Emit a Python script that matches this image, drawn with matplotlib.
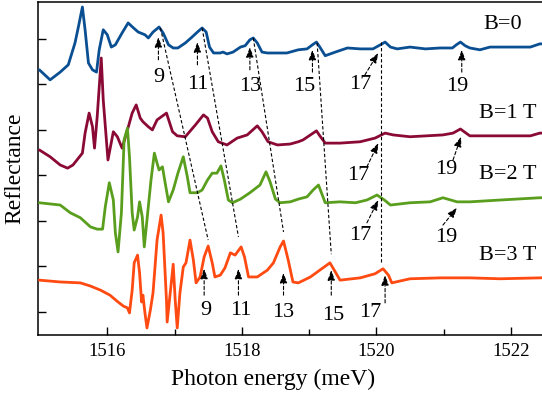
import matplotlib
matplotlib.use("Agg")
import matplotlib.pyplot as plt

plt.rcParams['font.family'] = ['Liberation Serif', 'DejaVu Serif']

# ---- data (photon energy in meV, reflectance in offset units) ----
e_b0 = [1514.99, 1515.15, 1515.30, 1515.42, 1515.52, 1515.57, 1515.63, 1515.67, 1515.72, 1515.78,
        1515.84, 1515.88, 1515.94, 1516.00, 1516.06, 1516.12, 1516.22, 1516.31, 1516.39, 1516.46,
        1516.56, 1516.61, 1516.68, 1516.77, 1516.83, 1516.91, 1516.98, 1517.05, 1517.16, 1517.26,
        1517.34, 1517.41, 1517.47, 1517.52, 1517.58, 1517.68, 1517.72, 1517.78, 1517.87, 1517.98,
        1518.05, 1518.12, 1518.17, 1518.23, 1518.30, 1518.38, 1518.53, 1518.67, 1518.84, 1518.97,
        1519.05, 1519.11, 1519.16, 1519.24, 1519.39, 1519.57, 1519.76, 1519.95, 1520.06, 1520.13,
        1520.21, 1520.31, 1520.50, 1520.73, 1520.95, 1521.13, 1521.19, 1521.25, 1521.32, 1521.39,
        1521.54, 1521.69, 1521.99, 1522.14, 1522.29, 1522.43, 1522.55]
r_b0 = [5.32, 5.10, 5.27, 5.43, 5.91, 6.26, 6.70, 6.20, 5.47, 5.32,
        5.27, 5.76, 6.20, 6.09, 5.82, 5.87, 6.13, 6.35, 6.24, 6.15,
        6.09, 6.02, 6.15, 6.26, 6.13, 5.87, 5.80, 5.80, 5.91, 6.04,
        6.15, 6.24, 6.15, 5.82, 5.69, 5.69, 5.71, 5.67, 5.71, 5.82,
        5.85, 5.98, 6.02, 5.91, 5.71, 5.69, 5.69, 5.69, 5.76, 5.78,
        5.87, 5.93, 5.82, 5.63, 5.71, 5.80, 5.78, 5.78, 5.87, 5.93,
        5.82, 5.78, 5.82, 5.78, 5.80, 5.80, 5.87, 5.93, 5.85, 5.80,
        5.76, 5.82, 5.82, 5.82, 5.82, 5.89, 5.89]

e_b1 = [1514.99, 1515.15, 1515.30, 1515.41, 1515.49, 1515.63, 1515.67, 1515.73, 1515.78, 1515.81,
        1515.85, 1515.91, 1515.94, 1516.01, 1516.09, 1516.15, 1516.22, 1516.30, 1516.37, 1516.43,
        1516.49, 1516.53, 1516.61, 1516.67, 1516.74, 1516.88, 1516.97, 1517.04, 1517.16, 1517.31,
        1517.43, 1517.49, 1517.56, 1517.65, 1517.78, 1517.93, 1518.08, 1518.23, 1518.30, 1518.39,
        1518.53, 1518.72, 1518.84, 1518.91, 1519.02, 1519.11, 1519.16, 1519.24, 1519.46, 1519.76,
        1519.98, 1520.13, 1520.25, 1520.50, 1520.99, 1521.14, 1521.25, 1521.39, 1521.84, 1522.29,
        1522.43, 1522.55]
r_b1 = [3.56, 3.41, 3.23, 3.16, 3.23, 3.49, 3.93, 4.37, 4.07, 3.60,
        4.29, 5.58, 4.66, 3.34, 3.96, 3.85, 3.60, 4.00, 4.37, 4.55,
        4.26, 4.18, 4.07, 4.00, 4.22, 4.37, 3.96, 3.87, 3.85, 4.11,
        4.33, 4.26, 3.96, 3.74, 3.67, 3.82, 3.89, 4.09, 3.96, 3.74,
        3.67, 3.69, 3.74, 3.78, 3.89, 3.98, 3.87, 3.71, 3.71, 3.74,
        3.82, 3.93, 3.89, 3.85, 3.89, 3.93, 4.02, 3.87, 3.87, 3.87,
        3.93, 3.93]

e_b2 = [1514.99, 1515.30, 1515.45, 1515.60, 1515.75, 1515.85, 1515.93, 1515.97, 1516.03, 1516.09,
        1516.12, 1516.16, 1516.21, 1516.25, 1516.30, 1516.33, 1516.37, 1516.40, 1516.45, 1516.48,
        1516.52, 1516.55, 1516.59, 1516.65, 1516.70, 1516.74, 1516.77, 1516.82, 1516.86, 1516.91,
        1516.98, 1517.05, 1517.13, 1517.19, 1517.23, 1517.34, 1517.41, 1517.49, 1517.56, 1517.63,
        1517.69, 1517.74, 1517.80, 1517.86, 1517.98, 1518.12, 1518.27, 1518.36, 1518.42, 1518.50,
        1518.57, 1518.72, 1518.84, 1518.97, 1519.06, 1519.14, 1519.24, 1519.46, 1519.69, 1519.86,
        1520.01, 1520.12, 1520.21, 1520.50, 1520.80, 1520.99, 1521.20, 1521.39, 1521.84, 1522.43,
        1522.55]
r_b2 = [2.40, 2.35, 2.18, 2.07, 1.87, 1.82, 1.82, 2.31, 2.84, 2.46,
        1.74, 1.32, 2.18, 3.78, 4.04, 3.41, 2.18, 1.80, 2.09, 2.42,
        2.09, 1.43, 2.02, 2.90, 3.49, 3.27, 3.12, 3.19, 2.84, 2.42,
        2.68, 3.05, 3.41, 2.97, 2.62, 2.62, 2.68, 2.90, 3.05, 3.05,
        3.21, 2.90, 2.46, 2.40, 2.48, 2.62, 2.79, 3.08, 2.86, 2.48,
        2.40, 2.42, 2.48, 2.53, 2.68, 2.79, 2.40, 2.42, 2.40, 2.46,
        2.57, 2.46, 2.35, 2.40, 2.42, 2.51, 2.42, 2.42, 2.46, 2.51,
        2.51]

e_b3 = [1514.99, 1515.30, 1515.60, 1515.75, 1515.90, 1516.04, 1516.16, 1516.24, 1516.30, 1516.33,
        1516.37, 1516.40, 1516.45, 1516.48, 1516.51, 1516.53, 1516.56, 1516.59, 1516.64, 1516.68,
        1516.74, 1516.80, 1516.83, 1516.88, 1516.89, 1516.94, 1516.98, 1517.01, 1517.04, 1517.08,
        1517.13, 1517.17, 1517.23, 1517.28, 1517.32, 1517.38, 1517.44, 1517.50, 1517.56, 1517.60,
        1517.68, 1517.75, 1517.83, 1517.90, 1517.99, 1518.04, 1518.10, 1518.23, 1518.38, 1518.47,
        1518.57, 1518.62, 1518.69, 1518.76, 1518.84, 1519.02, 1519.16, 1519.31, 1519.39, 1519.46,
        1519.76, 1519.98, 1520.10, 1520.18, 1520.23, 1520.50, 1520.95, 1521.39, 1521.84, 1522.43,
        1522.55]
r_b3 = [0.70, 0.66, 0.64, 0.57, 0.48, 0.37, 0.22, 0.13, 0.09, -0.02,
        0.48, 1.08, 1.25, 0.86, 0.22, 0.37, -0.02, -0.35, 0.04, 0.42,
        1.58, 2.13, 1.74, 0.26, -0.22, 0.48, 1.05, 0.26, -0.35, 0.42,
        0.99, 1.08, 1.58, 1.14, 0.64, 0.77, 1.21, 1.45, 1.08, 0.77,
        0.81, 0.97, 1.30, 1.25, 1.43, 1.21, 0.77, 0.77, 0.92, 1.08,
        1.43, 1.56, 1.14, 0.66, 0.64, 0.77, 0.92, 1.08, 0.88, 0.70,
        0.75, 0.84, 0.95, 0.81, 0.64, 0.73, 0.75, 0.75, 0.73, 0.75,
        0.76]

colors = ['#0b4f93', '#8a0a35', '#5a9e1e', '#ff4a12']
field_labels = ['B=0', 'B=1 T', 'B=2 T', 'B=3 T']
field_label_pos = [(1521.88, 6.31), (1521.96, 4.37), (1521.96, 3.01), (1521.96, 1.25)]

# dashed guide lines linking peaks of the same order (start, end)
guide_labels = ['9', '11', '13', '15', '17']
guide_start = [(1516.79, 6.24), (1517.41, 6.24), (1518.17, 6.02), (1519.12, 5.91), (1520.07, 5.93)]
guide_end = [(1517.50, 1.58), (1517.95, 1.65), (1518.62, 1.76), (1519.33, 1.27), (1520.07, 1.10)]

# arrow annotations: label, tip (E, R), tail (E, R), text (E, R)
arrow_labels = ['9', '11', '13', '15', '17', '19',
                '17', '19',
                '17', '19',
                '9', '11', '13', '15', '17']
arrow_tip = [(1516.76, 6.04), (1517.34, 5.93), (1518.12, 5.82), (1519.05, 5.76), (1520.03, 5.69), (1521.27, 5.76),
             (1520.03, 3.71), (1521.26, 3.85),
             (1520.03, 2.46), (1521.20, 2.29),
             (1517.44, 0.95), (1517.95, 0.95), (1518.62, 0.86), (1519.33, 0.92), (1520.13, 0.81)]
arrow_tail = [(1516.76, 5.54), (1517.34, 5.43), (1518.12, 5.32), (1519.05, 5.27), (1519.83, 5.21), (1521.27, 5.27),
              (1519.86, 3.19), (1521.14, 3.34),
              (1519.86, 1.96), (1520.99, 1.91),
              (1517.44, 0.37), (1517.95, 0.37), (1518.62, 0.37), (1519.33, 0.37), (1520.13, 0.20)]
arrow_text = [(1516.77, 5.16), (1517.35, 4.99), (1518.12, 4.95), (1518.93, 4.95), (1519.76, 4.99), (1521.20, 4.95),
              (1519.73, 2.99), (1521.04, 3.14),
              (1519.76, 1.69), (1521.04, 1.63),
              (1517.46, 0.04), (1517.99, 0.04), (1518.62, -0.02), (1519.36, -0.07), (1519.91, -0.02)]

# ---- figure ----
fig = plt.figure(figsize=(5.42, 3.97), dpi=100)
ax = fig.add_axes([38/542, 62/397, 506.5/542, 333/397])

for e, r, c in zip([e_b0, e_b1, e_b2, e_b3], [r_b0, r_b1, r_b2, r_b3], colors):
    ax.plot(e, r, color=c, lw=2.0, solid_joinstyle='round', solid_capstyle='round', zorder=3)

for (x0, y0), (x1, y1) in zip(guide_start, guide_end):
    ax.plot([x0, x1], [y0, y1], color='black', lw=0.8, ls=(0, (3, 2)), zorder=4)

for lab, tip, tail, txt in zip(arrow_labels, arrow_tip, arrow_tail, arrow_text):
    ax.annotate('', xy=tip, xytext=tail,
                arrowprops=dict(arrowstyle='-|>,head_length=0.6,head_width=0.22', color='black',
                                lw=0.8, ls=(0, (3, 2)), shrinkA=0, shrinkB=0),
                zorder=5)
    ax.text(txt[0], txt[1], lab, ha='center', va='center', fontsize=16, zorder=5)

for lab, (x, y) in zip(field_labels, field_label_pos):
    ax.text(x, y, lab, ha='center', va='center', fontsize=16, zorder=5)

ax.set_xlim(1514.97, 1522.5)
ax.set_ylim(-0.505, 6.81)
ax.set_xticks([1516, 1518, 1520, 1522])
ax.set_xticks([1517, 1519, 1521], minor=True)
ax.set_yticks([0, 1, 2, 3, 4, 5, 6])
ax.set_yticklabels([])
ax.tick_params(axis='both', which='major', direction='in', length=6, width=1.0, labelsize=13.5, pad=6)
ax.tick_params(axis='x', which='minor', direction='in', length=4, width=1.0)
ax.tick_params(top=False, right=False)
for s in ax.spines.values():
    s.set_linewidth(1.1)
ax.spines['right'].set_visible(False)

ax.set_xlabel('Photon energy (meV)', fontsize=17)
ax.xaxis.set_label_coords(0.465, -0.103)
ax.set_ylabel('Reflectance', fontsize=17)
ax.yaxis.set_label_coords(-0.024, 0.5)

fig.savefig('out.png', dpi=100)
